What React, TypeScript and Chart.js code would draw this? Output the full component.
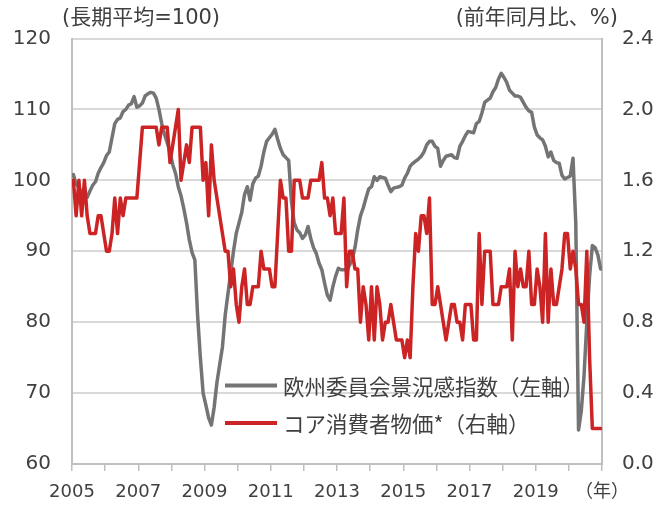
import React, { useEffect, useRef } from "react";
import { Chart, registerables } from "chart.js";

Chart.register(...registerables);

// ---- data (monthly, Jan 2005 - Dec 2020) ----
const startYear = 2005;

const sentiment: number[] = [
  // 2005
  100.8, 99.5, 99.0, 98.2, 97.8, 97.6, 98.5, 99.3, 99.8, 101.0, 101.8, 102.5,
  // 2006
  103.5, 104.0, 106.0, 108.0, 108.6, 108.8, 109.7, 110.0, 110.6, 110.8, 111.8, 110.3,
  // 2007
  110.5, 110.9, 111.9, 112.2, 112.4, 112.3, 111.6, 110.0, 108.0, 106.5, 105.3, 104.0,
  // 2008
  102.2, 101.0, 99.1, 97.8, 96.0, 94.0, 91.6, 89.8, 88.8, 81.0, 75.0, 70.0,
  // 2009
  68.3, 66.5, 65.5, 68.0, 71.5, 74.0, 76.5, 81.0, 84.0, 87.0, 90.0, 92.5,
  // 2010
  94.0, 95.5, 98.0, 99.1, 97.2, 99.5, 100.3, 100.6, 102.0, 104.0, 105.5, 106.0,
  // 2011
  106.5, 107.2, 105.8, 104.5, 103.6, 103.2, 102.8, 97.0, 94.0, 93.0, 92.6, 91.8,
  // 2012
  92.3, 93.5, 91.8, 90.5, 89.7, 88.3, 87.4, 85.5, 83.8, 83.1, 85.0, 86.5,
  // 2013
  87.6, 87.4, 87.4, 87.4, 88.0, 88.8, 90.5, 93.0, 95.0, 96.1, 97.5, 98.8,
  // 2014
  99.1, 100.5, 100.0, 100.5, 100.4, 100.3, 99.3, 98.4, 98.9, 99.0, 99.1, 99.3,
  // 2015
  100.3, 101.0, 102.0, 102.4, 102.7, 103.0, 103.4, 104.0, 105.0, 105.5, 105.5, 104.8,
  // 2016
  104.5, 102.0, 102.8, 103.4, 103.5, 103.6, 103.2, 103.1, 104.8, 105.5, 106.3, 106.9,
  // 2017
  106.8, 106.7, 108.0, 108.3, 109.5, 111.0, 111.3, 111.6, 112.5, 113.1, 114.3, 115.1,
  // 2018
  114.5, 113.8, 112.7, 112.3, 111.9, 111.9, 111.7, 111.0, 110.3, 109.8, 109.6, 107.5,
  // 2019
  106.4, 106.0, 105.7, 104.8, 103.3, 104.0, 102.8, 102.5, 102.4, 100.7, 100.2, 100.4,
  // 2020
  100.6, 103.1, 94.0, 64.8, 67.5, 72.5, 80.0, 86.5, 90.8, 90.5, 89.5, 87.5,
];

const coreCpi: number[] = [
  // 2005
  1.6, 1.4, 1.6, 1.4, 1.6, 1.4, 1.3, 1.3, 1.3, 1.4, 1.4, 1.3,
  // 2006
  1.2, 1.2, 1.3, 1.5, 1.3, 1.5, 1.4, 1.5, 1.5, 1.5, 1.5, 1.5,
  // 2007
  1.7, 1.9, 1.9, 1.9, 1.9, 1.9, 1.9, 1.8, 1.9, 1.9, 1.9, 1.7,
  // 2008
  1.8, 1.9, 2.0, 1.6, 1.7, 1.8, 1.7, 1.9, 1.9, 1.9, 1.9, 1.6,
  // 2009
  1.7, 1.4, 1.8, 1.6, 1.5, 1.4, 1.3, 1.2, 1.2, 1.0, 1.1, 0.9,
  // 2010
  0.8, 1.0, 1.1, 0.9, 0.9, 1.0, 1.0, 1.0, 1.2, 1.1, 1.1, 1.1,
  // 2011
  1.0, 1.0, 1.3, 1.6, 1.5, 1.5, 1.2, 1.2, 1.6, 1.6, 1.6, 1.5,
  // 2012
  1.5, 1.5, 1.6, 1.6, 1.6, 1.6, 1.7, 1.5, 1.5, 1.4, 1.5, 1.3,
  // 2013
  1.3, 1.3, 1.5, 1.0, 1.2, 1.2, 1.1, 1.1, 0.8, 1.0, 0.9, 0.7,
  // 2014
  1.0, 0.7, 1.0, 0.9, 0.7, 0.8, 0.8, 0.9, 0.8, 0.7, 0.7, 0.7,
  // 2015
  0.6, 0.7, 0.6, 1.0, 1.3, 1.2, 1.4, 1.4, 1.3, 1.5, 0.9, 0.9,
  // 2016
  1.0, 0.9, 0.8, 0.7, 0.8, 0.9, 0.9, 0.8, 0.8, 0.7, 0.9, 0.9,
  // 2017
  0.9, 0.7, 0.7, 1.3, 0.9, 1.2, 1.2, 1.2, 0.9, 0.9, 0.9, 1.0,
  // 2018
  1.0, 1.0, 1.1, 0.7, 1.2, 1.0, 1.1, 1.0, 1.0, 1.2, 0.9, 0.9,
  // 2019
  1.1, 1.0, 0.8, 1.3, 0.8, 1.1, 0.9, 0.9, 1.0, 1.1, 1.3, 1.3,
  // 2020
  1.1, 1.2, 1.1, 0.9, 0.9, 0.8, 1.2, 0.6, 0.2, 0.2, 0.2, 0.2,
];

const leftTickValues = [60, 70, 80, 90, 100, 110, 120];
const rightTickValues = [0.0, 0.4, 0.8, 1.2, 1.6, 2.0, 2.4];
const labeledYears = [2005, 2007, 2009, 2011, 2013, 2015, 2017, 2019];
const yearUnitLabel = "（年）";
const endYear = 2021;

const seriesNames = ["欧州委員会景況感指数（左軸）", "コア消費者物価*（右軸）"];
const leftAxisTitle = "(長期平均=100)";
const rightAxisTitle = "(前年同月比、%)";

// month positions (mid-month)
const monthX = sentiment.map((_, i) => startYear + (i + 0.5) / 12);

const FONT = "'DejaVu Sans', 'Noto Sans CJK JP', sans-serif";
const JP_FONT = "'Noto Sans CJK JP', 'DejaVu Sans', sans-serif";
const TEXT = "#404040";
const GRAY = "#747474";
const RED = "#cc2424";
const AXIS = "#bfbfbf";
const GRID = "#d9d9d9";

const overlayPlugin = {
  id: "overlay",
  afterDraw(chart: any) {
    const { ctx, chartArea } = chart;
    ctx.save();
    ctx.fillStyle = TEXT;
    ctx.textBaseline = "middle";
    ctx.font = `21px ${FONT}`;
    ctx.textAlign = "left";
    ctx.fillText(leftAxisTitle, chartArea.left - 10, 19);
    ctx.textAlign = "right";
    ctx.fillText(rightAxisTitle, chartArea.right + 16, 19);

    ctx.font = `21.5px ${JP_FONT}`;
    const legendOrder = [0, 1];
    legendOrder.forEach((di, k) => {
      const ds = chart.data.datasets[di];
      const y = chartArea.top + 347 + k * 37.5;
      const x0 = chartArea.left + 153;
      ctx.strokeStyle = ds.borderColor;
      ctx.lineWidth = 4;
      ctx.lineCap = "butt";
      ctx.beginPath();
      ctx.moveTo(x0, y);
      ctx.lineTo(x0 + 52, y);
      ctx.stroke();
      ctx.textAlign = "left";
      ctx.fillText(ds.label, x0 + 58, y + 1);
    });
    ctx.restore();
  },
};

export default function App() {
  const canvasRef = useRef<HTMLCanvasElement | null>(null);

  useEffect(() => {
    if (!canvasRef.current) return;
    const chart = new Chart(canvasRef.current, {
      type: "line",
      data: {
        datasets: [
          {
            label: seriesNames[0],
            data: sentiment.map((v, i) => ({ x: monthX[i], y: v })),
            borderColor: GRAY,
            backgroundColor: GRAY,
            borderWidth: 3.5,
            pointRadius: 0,
            tension: 0,
            borderJoinStyle: "round",
            borderCapStyle: "round",
            yAxisID: "y",
            order: 2,
          },
          {
            label: seriesNames[1],
            data: coreCpi.map((v, i) => ({ x: monthX[i], y: v })),
            borderColor: RED,
            backgroundColor: RED,
            borderWidth: 3.5,
            pointRadius: 0,
            tension: 0,
            borderJoinStyle: "round",
            borderCapStyle: "round",
            yAxisID: "y1",
            order: 1,
          },
        ],
      },
      options: {
        responsive: false,
        animation: false,
        layout: { padding: { top: 38.5, left: 0, right: 0, bottom: 0 } },
        plugins: {
          legend: { display: false },
          tooltip: { enabled: false },
        },
        scales: {
          x: {
            type: "linear",
            position: "bottom",
            min: startYear,
            max: endYear,
            afterFit: (s: any) => {
              s.height = 42;
            },
            afterBuildTicks: (s: any) => {
              const t = [];
              for (let yv = startYear; yv <= endYear; yv++) t.push({ value: yv });
              s.ticks = t;
            },
            grid: {
              display: true,
              drawOnChartArea: false,
              drawTicks: true,
              tickLength: 7,
              color: AXIS,
              lineWidth: 1.5,
            },
            border: { display: true, color: AXIS, width: 2 },
            ticks: {
              autoSkip: false,
              maxRotation: 0,
              padding: 11,
              color: TEXT,
              font: { family: FONT, size: 18 },
              callback: (v: any) => {
                const n = Math.round(Number(v));
                if (n === endYear) return yearUnitLabel;
                return labeledYears.includes(n) ? String(n) : "";
              },
            },
          },
          y: {
            position: "left",
            min: leftTickValues[0],
            max: leftTickValues[leftTickValues.length - 1],
            afterFit: (s: any) => {
              s.width = 72;
            },
            afterBuildTicks: (s: any) => {
              s.ticks = leftTickValues.map((v) => ({ value: v }));
            },
            grid: { color: GRID, lineWidth: 2, drawTicks: false },
            border: { display: true, color: AXIS, width: 2 },
            ticks: {
              padding: 21,
              color: TEXT,
              font: { family: FONT, size: 20 },
            },
          },
          y1: {
            position: "right",
            min: rightTickValues[0],
            max: rightTickValues[rightTickValues.length - 1],
            afterFit: (s: any) => {
              s.width = 67;
            },
            afterBuildTicks: (s: any) => {
              s.ticks = rightTickValues.map((v) => ({ value: v }));
            },
            grid: { drawOnChartArea: false, drawTicks: false },
            border: { display: true, color: AXIS, width: 2 },
            ticks: {
              padding: 20,
              color: TEXT,
              font: { family: FONT, size: 20 },
              callback: (v: any) => Number(v).toFixed(1),
            },
          },
        },
      },
      plugins: [overlayPlugin],
    });
    return () => chart.destroy();
  }, []);

  return (
    <div style={{ position: "absolute", left: 0, top: 0, width: 669, height: 506, background: "#fff" }}>
      <canvas ref={canvasRef} width={669} height={506} style={{ width: 669, height: 506, display: "block" }} />
    </div>
  );
}
